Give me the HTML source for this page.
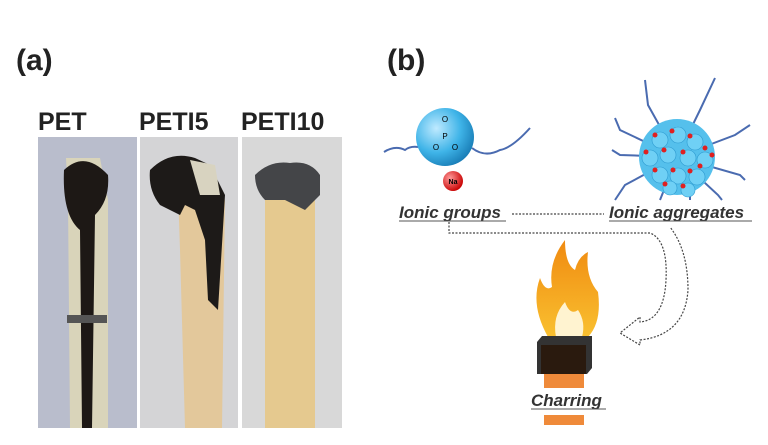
<!DOCTYPE html>
<html><head><style>
body{margin:0;width:768px;height:445px;background:#fff;overflow:hidden;position:relative;font-family:"Liberation Sans",Arial,sans-serif}
.t{position:absolute;font-weight:bold;color:#222}
</style></head><body>
<div class="t" style="left:16px;top:44px;font-size:30px">(a)</div>
<div class="t" style="left:387px;top:44px;font-size:30px">(b)</div>
<div class="t" style="left:38px;top:108px;font-size:25px">PET</div>
<div class="t" style="left:139px;top:108px;font-size:25px">PETI5</div>
<div class="t" style="left:241px;top:108px;font-size:25px">PETI10</div>
<svg width="768" height="445" style="position:absolute;left:0;top:0">
<defs>
<radialGradient id="bl" cx="0.35" cy="0.35" r="0.7"><stop offset="0" stop-color="#bfeaff"/><stop offset="0.6" stop-color="#3fb4e8"/><stop offset="1" stop-color="#1a7fb8"/></radialGradient>
<radialGradient id="rd" cx="0.35" cy="0.35" r="0.7"><stop offset="0" stop-color="#ff9a9a"/><stop offset="1" stop-color="#c80000"/></radialGradient>
<linearGradient id="fl" x1="0" y1="0" x2="0" y2="1"><stop offset="0" stop-color="#f08a10"/><stop offset="1" stop-color="#f9c030"/></linearGradient>
</defs>
<rect x="38" y="137" width="99" height="291" fill="#b9bdcc"/>
<rect x="140" y="137" width="98" height="291" fill="#d4d4d6"/>
<rect x="242" y="137" width="100" height="291" fill="#d8d8d8"/>
<path d="M66 158 L100 158 L108 200 L108 428 L70 428 L68 200 Z" fill="#d9d4ba"/>
<path d="M64 170 Q85 150 108 175 Q110 200 95 215 L92 428 L82 428 L80 230 Q62 215 64 170Z" fill="#1d1815"/>
<rect x="67" y="315" width="40" height="8" fill="#555"/>
<path d="M178 190 L205 175 L225 200 L222 428 L185 428 L180 250Z" fill="#e3c89b"/>
<path d="M150 170 Q170 150 195 158 L210 165 L225 195 L218 310 L208 300 L205 240 L195 210 L185 205 L180 215 L160 205 Q148 190 150 170Z" fill="#1d1a18"/>
<path d="M190 160 L215 165 L220 195 L200 195Z" fill="#d8d3c0"/>
<rect x="265" y="190" width="50" height="238" fill="#e5c98f"/>
<path d="M255 175 Q270 160 290 163 Q310 160 320 175 L320 195 L305 210 L285 200 L265 200 Q255 190 255 175Z" fill="#444548"/>
<path d="M384 152 Q395 145 405 150 Q410 146 418 147 M472 148 Q485 158 500 150 Q512 148 530 128" stroke="#4a6bb0" stroke-width="2" fill="none"/>
<circle cx="445" cy="137" r="29" fill="url(#bl)"/>
<text x="445" y="122" font-size="8" text-anchor="middle">O</text>
<text x="445" y="139" font-size="8" text-anchor="middle">P</text>
<text x="436" y="150" font-size="8" text-anchor="middle">O</text>
<text x="455" y="150" font-size="8" text-anchor="middle">O</text>
<circle cx="453" cy="181" r="10" fill="url(#rd)"/>
<text x="453" y="184" font-size="7" font-weight="bold" text-anchor="middle">Na</text>
<g stroke="#4a6bb0" stroke-width="2" fill="none">
<path d="M677 157 L648 105 L645 80 M677 157 L700 110 L715 78 M677 157 L735 135 L750 125 M677 157 L740 175 L745 180 M677 157 L718 195 L722 200 M677 157 L690 195 L690 200 M677 157 L662 195 L660 200 M677 157 L625 185 L615 200 M677 157 L620 155 L612 150 M677 157 L620 130 L615 118"/>
</g>
<circle cx="677" cy="157" r="38" fill="#55c0ec"/>
<g fill="#6fd0f5" stroke="#2d9ad0" stroke-width="0.6">
<circle cx="660" cy="140" r="8"/><circle cx="678" cy="135" r="8"/><circle cx="695" cy="142" r="8"/><circle cx="650" cy="158" r="8"/><circle cx="668" cy="155" r="8"/><circle cx="688" cy="158" r="8"/><circle cx="705" cy="160" r="8"/><circle cx="660" cy="175" r="8"/><circle cx="678" cy="176" r="8"/><circle cx="697" cy="177" r="8"/><circle cx="670" cy="188" r="7"/><circle cx="688" cy="190" r="7"/>
</g>
<g fill="#e02020">
<circle cx="655" cy="135" r="2.5"/><circle cx="672" cy="131" r="2.5"/><circle cx="690" cy="136" r="2.5"/><circle cx="705" cy="148" r="2.5"/><circle cx="646" cy="152" r="2.5"/><circle cx="664" cy="150" r="2.5"/><circle cx="683" cy="152" r="2.5"/><circle cx="700" cy="166" r="2.5"/><circle cx="655" cy="170" r="2.5"/><circle cx="673" cy="170" r="2.5"/><circle cx="690" cy="171" r="2.5"/><circle cx="665" cy="184" r="2.5"/><circle cx="683" cy="186" r="2.5"/><circle cx="712" cy="155" r="2.5"/>
</g>
<path d="M548 337 Q530 305 540 278 Q545 292 552 287 Q548 262 565 240 Q565 264 575 270 Q578 257 588 252 Q585 277 598 292 Q602 322 588 337Z" fill="url(#fl)"/>
<path d="M556 337 Q552 316 565 302 Q570 316 578 310 Q586 322 582 337Z" fill="#fff3d0"/>
<rect x="544" y="373" width="40" height="15" fill="#ef8a3a"/>
<rect x="544" y="415" width="40" height="10" fill="#ef8a3a"/>
<polygon points="537,342 542,336 592,336 592,368 587,374 537,374" fill="#333"/>
<rect x="541" y="345" width="45" height="29" fill="#2a1a0e"/>
<g font-size="17" font-weight="bold" font-style="italic" fill="#333">
<text x="399" y="218">Ionic groups</text>
<text x="609" y="218">Ionic aggregates</text>
<text x="531" y="406">Charring</text>
</g>
<g stroke="#555" stroke-width="1">
<line x1="399" y1="221" x2="506" y2="221"/><line x1="609" y1="221" x2="752" y2="221"/><line x1="531" y1="409" x2="606" y2="409"/>
</g>
<g stroke="#444" stroke-width="1.2" stroke-dasharray="2,1.5" fill="none">
<line x1="512" y1="214" x2="604" y2="214"/>
<path d="M449 222 L449 233 L650 233 Q668 240 666 280 Q664 320 640 322 L640 317 L620 333 L640 345 L640 340 Q685 335 688 290 Q688 250 670 227"/>
</g>
</svg>
</body></html>
